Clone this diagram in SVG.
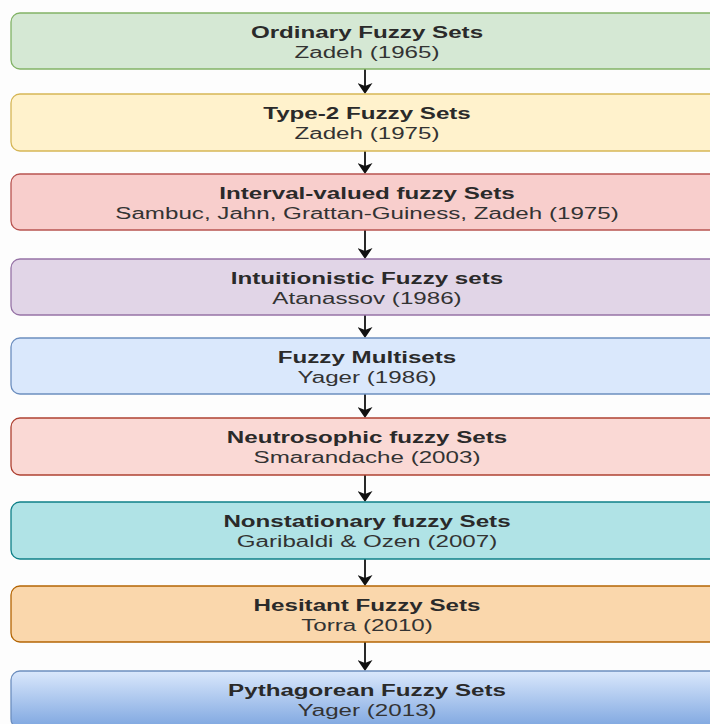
<svg xmlns="http://www.w3.org/2000/svg" width="710" height="724" viewBox="0 0 710 724">
  <defs>
    <linearGradient id="gBlue" x1="0" y1="0" x2="0" y2="1">
      <stop offset="0" stop-color="#dae8fc"/>
      <stop offset="1" stop-color="#7ea6e0"/>
    </linearGradient>
    <marker id="arrow" markerUnits="userSpaceOnUse" markerWidth="11" markerHeight="15" viewBox="0 0 11 15" refX="5" refY="7.5" orient="auto">
      <path d="M0,0 L11,7.5 L0,15 L3,7.5 Z" fill="#111"/>
    </marker>
    <style>
      .box { stroke-width: 1.3; }
      .t { font-family: "Liberation Sans", Arial, sans-serif; font-size: 16px; fill: #333; text-anchor: middle; }
      .b { font-weight: bold; fill: #2a2a2a; }
      .edge { stroke: #111; stroke-width: 1.8; fill: none; marker-end: url(#arrow); }
    </style>
  </defs>
  <rect width="710" height="724" fill="#fdfdfd"/>

  <g id="connectors">
    <line class="edge" x1="365" y1="69" x2="365" y2="88"/>
    <line class="edge" x1="365" y1="151" x2="365" y2="168"/>
    <line class="edge" x1="365" y1="230" x2="365" y2="253"/>
    <line class="edge" x1="365" y1="315" x2="365" y2="332"/>
    <line class="edge" x1="365" y1="394" x2="365" y2="412"/>
    <line class="edge" x1="365" y1="475" x2="365" y2="496"/>
    <line class="edge" x1="365" y1="559" x2="365" y2="580"/>
    <line class="edge" x1="365" y1="642" x2="365" y2="665"/>
  </g>

  <g id="n1">
    <rect class="box" x="11" y="13" width="712" height="56" rx="9" fill="#d5e8d4" stroke="#82b366"/>
    <text class="t b" transform="translate(367,38) scale(1.51,1)">Ordinary Fuzzy Sets</text>
    <text class="t" transform="translate(367,58) scale(1.51,1)">Zadeh (1965)</text>
  </g>
  <g id="n2">
    <rect class="box" x="11" y="94" width="712" height="57" rx="9" fill="#fff2cc" stroke="#d6b656"/>
    <text class="t b" transform="translate(367,119) scale(1.51,1)">Type-2 Fuzzy Sets</text>
    <text class="t" transform="translate(367,139) scale(1.51,1)">Zadeh (1975)</text>
  </g>
  <g id="n3">
    <rect class="box" x="11" y="174" width="712" height="56" rx="9" fill="#f8cecc" stroke="#b85450"/>
    <text class="t b" transform="translate(367,199) scale(1.51,1)">Interval-valued fuzzy Sets</text>
    <text class="t" transform="translate(367,219) scale(1.51,1)">Sambuc, Jahn, Grattan-Guiness, Zadeh (1975)</text>
  </g>
  <g id="n4">
    <rect class="box" x="11" y="259" width="712" height="56" rx="9" fill="#e1d5e7" stroke="#9673a6"/>
    <text class="t b" transform="translate(367,284) scale(1.51,1)">Intuitionistic Fuzzy sets</text>
    <text class="t" transform="translate(367,304) scale(1.51,1)">Atanassov (1986)</text>
  </g>
  <g id="n5">
    <rect class="box" x="11" y="338" width="712" height="56" rx="9" fill="#dae8fc" stroke="#6c8ebf"/>
    <text class="t b" transform="translate(367,363) scale(1.51,1)">Fuzzy Multisets</text>
    <text class="t" transform="translate(367,383) scale(1.51,1)">Yager (1986)</text>
  </g>
  <g id="n6">
    <rect class="box" x="11" y="418" width="712" height="57" rx="9" fill="#fad9d5" stroke="#ae4132"/>
    <text class="t b" transform="translate(367,443) scale(1.51,1)">Neutrosophic fuzzy Sets</text>
    <text class="t" transform="translate(367,463) scale(1.51,1)">Smarandache (2003)</text>
  </g>
  <g id="n7">
    <rect class="box" x="11" y="502" width="712" height="57" rx="9" fill="#b0e3e6" stroke="#0e8088"/>
    <text class="t b" transform="translate(367,527) scale(1.51,1)">Nonstationary fuzzy Sets</text>
    <text class="t" transform="translate(367,547) scale(1.51,1)">Garibaldi &amp; Ozen (2007)</text>
  </g>
  <g id="n8">
    <rect class="box" x="11" y="586" width="712" height="56" rx="9" fill="#fad7ac" stroke="#b46504"/>
    <text class="t b" transform="translate(367,611) scale(1.51,1)">Hesitant Fuzzy Sets</text>
    <text class="t" transform="translate(367,631) scale(1.51,1)">Torra (2010)</text>
  </g>
  <g id="n9">
    <rect class="box" x="11" y="671" width="712" height="57" rx="9" fill="url(#gBlue)" stroke="#6c8ebf"/>
    <text class="t b" transform="translate(367,696) scale(1.51,1)">Pythagorean Fuzzy Sets</text>
    <text class="t" transform="translate(367,716) scale(1.51,1)">Yager (2013)</text>
  </g>
</svg>
